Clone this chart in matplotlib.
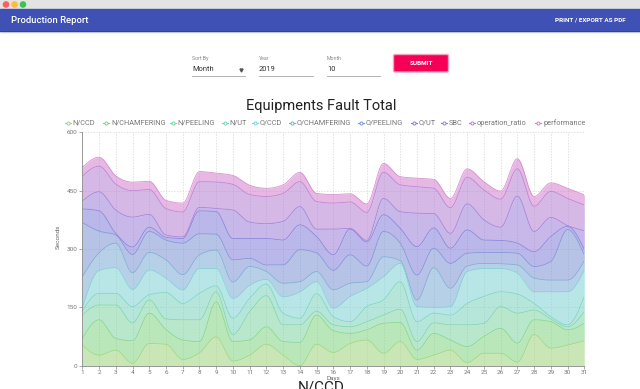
import numpy as np
import matplotlib.pyplot as plt
from matplotlib.patches import Rectangle, Circle, FancyBboxPatch

plt.rcParams['font.family'] = ['Roboto', 'DejaVu Sans']

days = list(range(1, 32))
series_names = ['N/CCD', 'N/CHAMFERING', 'N/PEELING', 'N/UT', 'O/CCD', 'O/CHAMFERING',
                'O/PEELING', 'O/UT', 'SBC', 'operation_ratio', 'performance']
colors = ['#9ed57a', '#82d582', '#7fd5a3', '#7ad2bc', '#7fd2d5', '#7aacd5',
          '#7a93d5', '#827fd9', '#9b7fd9', '#b47fd2', '#d27fcd']

n_ccd = [53, 27, 40, 6, 57, 55, 16, 33, 74, 12, 27, 55, 27, 0, 55, 34,
         57, 66, 32, 62, 16, 27, 40, 8, 32, 32, 9, 80, 45, 53, 64]
n_chamfering = [17, 91, 30, 58, 78, 38, 50, 29, 90, 50, 39, 45, 35, 60, 75, 56,
                26, 26, 77, 49, 24, 56, 26, 41, 43, 64, 49, 38, 68, 39, 45]
n_peeling = [60, 38, 86, 46, 34, 27, 52, 56, 26, 18, 73, 80, 43, 45, 10, 15,
             17, 21, 21, 34, 22, 27, 39, 56, 34, 56, 77, 25, 7, 8, 30]
n_ut = [10, 30, 30, 42, 13, 68, 42, 68, 15, 42, 34, 30, 30, 17, 45, 21,
        13, 39, 39, 71, 51, 25, 25, 55, 69, 38, 49, 17, 6, 5, 39]
o_ccd = [8, 59, 66, 44, 64, 37, 35, 64, 45, 51, 34, 12, 42, 68, 31, 22,
         65, 47, 60, 47, 39, 15, 22, 82, 72, 60, 54, 30, 64, 85, 68]
o_chamfering = [81, 45, 63, 43, 45, 47, 39, 35, 47, 42, 48, 20, 35, 26, 26, 47,
                34, 17, 51, 7, 17, 102, 47, 14, 13, 12, 21, 35, 30, 30, 24]
o_peeling = [139, 56, 21, 47, 54, 51, 81, 54, 41, 57, 21, 17, 47, 82, 48, 50,
             73, 40, 65, 45, 64, 50, 64, 33, 28, 29, 30, 30, 48, 130, 15]
o_ut = [35, 52, 4, 19, 11, 7, 12, 59, 58, 55, 51, 68, 64, 64, 42, 40,
        66, 62, 43, 38, 73, 52, 39, 60, 32, 31, 26, 38, 64, 8, 14]
sbc = [20, 49, 60, 77, 33, 6, 4, 9, 8, 73, 42, 38, 48, 47, 19, 66,
       2, 4, 42, 43, 86, 37, 38, 67, 52, 34, 121, 52, 49, 2, 48]
operation_ratio = [64, 66, 67, 68, 64, 68, 64, 66, 68, 66, 71, 70, 72, 64, 71, 67,
                   68, 72, 67, 69, 68, 65, 66, 68, 77, 72, 70, 65, 67, 70, 66]
performance = [23, 23, 21, 22, 21, 21, 23, 26, 23, 23, 24, 21, 22, 24, 21, 22,
               21, 22, 23, 21, 22, 23, 24, 22, 21, 21, 26, 25, 22, 26, 26]

series = [n_ccd, n_chamfering, n_peeling, n_ut, o_ccd, o_chamfering,
          o_peeling, o_ut, sbc, operation_ratio, performance]


# monotone cubic curve like d3.curveMonotoneX (used by the web chart)
def monotone(x, y, steps=24):
    x = np.asarray(x, float)
    y = np.asarray(y, float)
    h = np.diff(x)
    s = np.diff(y) / h
    n = len(x)
    t = np.zeros(n)
    for i in range(1, n - 1):
        p = (s[i - 1] * h[i] + s[i] * h[i - 1]) / (h[i - 1] + h[i])
        t[i] = (np.sign(s[i - 1]) + np.sign(s[i])) * min(abs(s[i - 1]), abs(s[i]), 0.5 * abs(p))
    t[0] = (3 * s[0] - t[1]) / 2
    t[-1] = (3 * s[-1] - t[-2]) / 2
    xs, ys = [], []
    for i in range(n - 1):
        u = np.linspace(0, 1, steps, endpoint=(i == n - 2))
        h00 = 2 * u**3 - 3 * u**2 + 1
        h10 = u**3 - 2 * u**2 + u
        h01 = -2 * u**3 + 3 * u**2
        h11 = u**3 - u**2
        xs.append(x[i] + u * h[i])
        ys.append(h00 * y[i] + h10 * h[i] * t[i] + h01 * y[i + 1] + h11 * h[i] * t[i + 1])
    return np.concatenate(xs), np.concatenate(ys)


fig = plt.figure(figsize=(6.4, 3.89), dpi=100)

# page / window chrome drawn in pixel coordinates
bg = fig.add_axes([0, 0, 1, 1], zorder=0)
bg.set_xlim(0, 640)
bg.set_ylim(389, 0)
bg.axis('off')

bg.add_patch(Rectangle((0, 0), 640, 9, color='#e3e3e3'))
for cx, c in zip([6, 14.5, 23], ['#fc605c', '#fdbc40', '#34c84a']):
    bg.add_patch(Circle((cx, 4.5), 2.6, color=c))
bg.add_patch(Rectangle((0, 9), 640, 22, color='#3f51b5'))
for k, a in enumerate([0.18, 0.1, 0.05]):
    bg.add_patch(Rectangle((0, 31 + k), 640, 1, color='black', alpha=a, lw=0))
bg.text(11, 20, 'Production Report', color='white', fontsize=6.8, va='center', fontweight='medium')
bg.text(626, 20, 'PRINT / EXPORT AS PDF', color='white', fontsize=4.6, va='center', ha='right',
        fontweight='bold')

# form row
fields = [(192, 245, 'Sort By', 'Month'), (259, 313, 'Year', '2019'), (327, 380, 'Month', '10')]
for x0, x1, lab, val in fields:
    bg.text(x0, 58, lab, color='#8a8a8a', fontsize=3.8, va='center')
    bg.text(x0, 69.5, val, color='#333333', fontsize=5.4, va='center')
    bg.plot([x0, x1], [76, 76], color='#a8a8a8', lw=0.6)
bg.plot([240.5], [70.3], marker='v', ms=2.2, color='#555555')
bg.add_patch(FancyBboxPatch((393.5, 54.5), 55, 17.5, boxstyle='round,pad=0,rounding_size=1.5',
                            fc='#f50057', ec='#f6a0b9', lw=1.0))
bg.text(421, 63.3, 'SUBMIT', color='white', fontsize=4.6, ha='center', va='center', fontweight='bold')

# chart title and legend
bg.text(321, 106, 'Equipments Fault Total', color='#222222', fontsize=10.5, ha='center', va='center')
icon_x = [67.5, 106, 172.5, 224.5, 254.5, 292, 361, 413.5, 444, 472, 538]
for ix, name, c in zip(icon_x, series_names, colors):
    bg.plot([ix - 3, ix + 3], [123, 123], color=c, lw=0.8)
    bg.plot([ix], [123], marker='o', ms=2.2, mfc='white', mec=c, mew=0.7)
    bg.text(ix + 5, 123, name, color='#777777', fontsize=5.3, va='center')

bg.text(58, 237, 'Seconds', color='#666666', fontsize=4.6, rotation=90, ha='center', va='center')
bg.text(333, 378.5, 'Days', color='#666666', fontsize=4.6, ha='center', va='center')
bg.text(321, 380.5, 'N/CCD', color='#222222', fontsize=11, ha='center', va='top')

# stacked area chart
ax = fig.add_axes([82.3 / 640, 23.3 / 389, 502 / 640, 233.4 / 389], zorder=1)
ax.patch.set_alpha(0)

base = np.zeros(len(days))
xs, lower = monotone(days, base)
for vals, c in zip(series, colors):
    top = base + np.array(vals, float)
    _, upper = monotone(days, top)
    ax.fill_between(xs, lower, upper, color=c, alpha=0.55, lw=0)
    ax.plot(xs, upper, color=c, lw=0.6, alpha=0.85)
    base, lower = top, upper

ax.set_xlim(1, 31)
ax.set_ylim(0, 600)
ax.set_xticks(days)
ax.set_yticks([0, 150, 300, 450, 600])
for d in days[1:]:
    ax.axvline(d, color='#d5d5d5', lw=0.5, ls=(0, (2, 2)), zorder=0)
for v in [150, 300, 450, 600]:
    ax.axhline(v, color='#d5d5d5', lw=0.5, ls=(0, (2, 2)), zorder=0)

for side in ['top', 'right']:
    ax.spines[side].set_visible(False)
for side in ['left', 'bottom']:
    ax.spines[side].set_color('#888888')
    ax.spines[side].set_linewidth(0.6)
ax.tick_params(colors='#888888', labelcolor='#777777', labelsize=4.6, length=2.2, width=0.5, pad=1.2)

fig.savefig('out.png', dpi=100)
